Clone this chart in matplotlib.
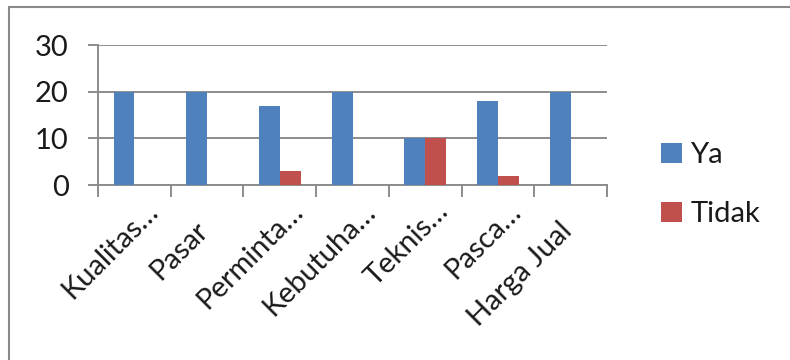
import numpy as np
import matplotlib
matplotlib.use("Agg")
import matplotlib.pyplot as plt
from matplotlib.patches import Rectangle
from matplotlib.transforms import ScaledTranslation

# ---------------------------------------------------------------------------
# Data
# ---------------------------------------------------------------------------
categories = ["Kualitas…", "Pasar", "Perminta…", "Kebutuha…",
              "Teknis…", "Pasca…", "Harga Jual"]
ya = [20, 20, 17, 20, 10, 18, 20]
tidak = [0, 0, 3, 0, 10, 2, 0]
series_names = ["Ya", "Tidak"]
y_ticks = [0, 10, 20, 30]

# ---------------------------------------------------------------------------
# Style
# ---------------------------------------------------------------------------
plt.rcParams['font.family'] = ['Lato', 'DejaVu Sans']
BLUE = "#4F81BD"
RED = "#C0504D"
GRID = "#8c8c8c"
TEXT = "#1a1a1a"
FS = 21

fig = plt.figure(figsize=(7.9, 3.6), dpi=100)
ax = fig.add_axes([98 / 790, 175 / 360, (607 - 98) / 790, 140 / 360])

x = np.arange(len(categories))
w = 1 / 3.5
bars_ya = ax.bar(x - w / 2, ya, w, color=BLUE, label=series_names[0], zorder=3)
bars_td = ax.bar(x + w / 2, tidak, w, color=RED, label=series_names[1], zorder=3)

ax.set_xlim(-0.5, len(categories) - 0.5)
ax.set_ylim(0, 30)
ax.set_yticks(y_ticks)
ax.set_yticklabels([str(t) for t in y_ticks], fontsize=FS, color=TEXT)
ax.yaxis.grid(True, color=GRID, lw=1.4, zorder=0)
ax.tick_params(axis='y', length=7.2, width=1.4, color=GRID, pad=14)

# category boundary ticks on x axis
ax.set_xticks(np.arange(len(categories) + 1) - 0.5)
ax.set_xticklabels([])
ax.tick_params(axis='x', length=8.6, width=1.4, color=GRID)

for s in ["top", "right"]:
    ax.spines[s].set_visible(False)
for s in ["left", "bottom"]:
    ax.spines[s].set_color(GRID)
    ax.spines[s].set_linewidth(1.4)

# rotated category labels (Excel-like placement)
for i, lab in enumerate(categories):
    if lab.endswith("…"):
        dx, dy = 25, -28
    else:
        dx, dy = 3, -47
    tr = ax.get_xaxis_transform() + ScaledTranslation(dx / 100, dy / 100,
                                                      fig.dpi_scale_trans)
    ax.text(i, 0, lab, transform=tr, rotation=45, rotation_mode='anchor',
            ha='right', va='baseline', fontsize=FS, color=TEXT)

# legend
fig.legend(handles=[bars_ya, bars_td], labels=series_names,
           loc='upper left', bbox_to_anchor=(635 / 790, 1 - 116 / 360),
           frameon=False, fontsize=FS, handlelength=0.7, handleheight=0.7,
           handletextpad=0.3, labelspacing=1.13, labelcolor=TEXT)

# chart frame
fig.add_artist(Rectangle((9 / 790, -0.2), 1.1, 0.2 + 353 / 360,
                         transform=fig.transFigure, fill=False,
                         edgecolor="#8a8a8a", lw=1.5))

fig.savefig("out.png", dpi=100)
